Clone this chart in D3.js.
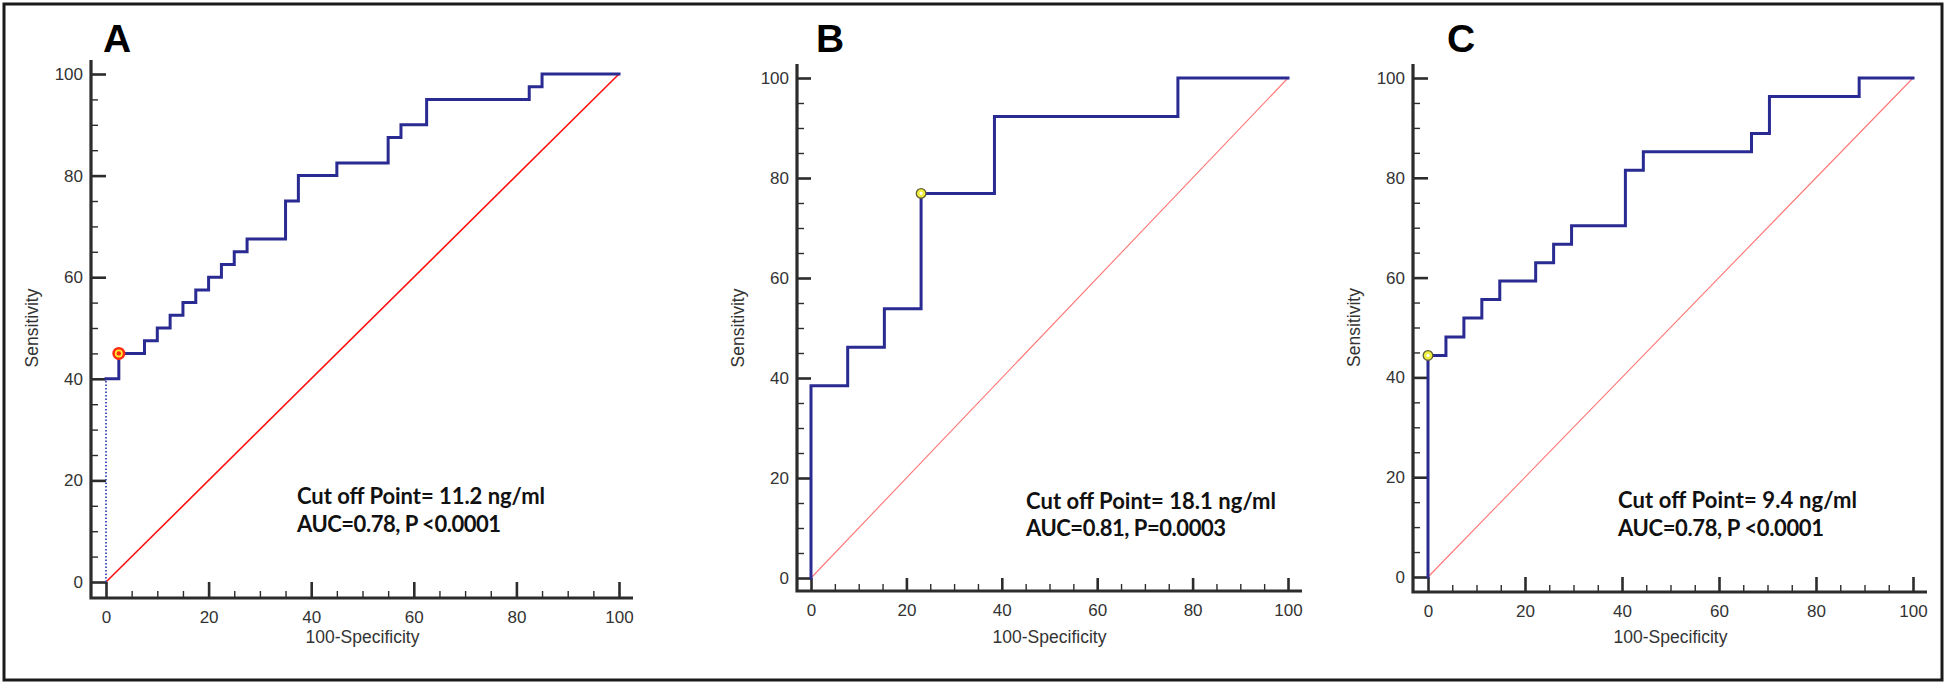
<!DOCTYPE html>
<html>
<head>
<meta charset="utf-8">
<script src="https://cdn.jsdelivr.net/npm/d3@7"></script>
<style>
  html, body { margin: 0; padding: 0; background: #ffffff; }
  svg { display: block; }
</style>
</head>
<body>
<svg id="chart" width="1946" height="684"></svg>
<script>
// ---------------- DATA ----------------
const panelLabels = ["A", "B", "C"];
const xTickValues = [0, 20, 40, 60, 80, 100];
const yTickValues = [0, 20, 40, 60, 80, 100];
const minorTickValues = [5, 10, 15, 25, 30, 35, 45, 50, 55, 65, 70, 75, 85, 90, 95];
const xAxisTitle = "100-Specificity";
const yAxisTitle = "Sensitivity";

// ROC vertices (100-Specificity, Sensitivity), drawn as step-after curves
const rocA_fpr = [0, 2.5, 7.5, 10, 12.5, 15, 17.5, 20, 22.5, 25, 27.5, 35, 37.5, 45, 55, 57.5, 62.5, 82.5, 85, 100];
const rocA_tpr = [40, 45, 47.5, 50, 52.5, 55, 57.5, 60, 62.5, 65, 67.5, 75, 80, 82.5, 87.5, 90, 95, 97.5, 100, 100];
const rocA_start_fpr = [0, 0];   // dotted first segment
const rocA_start_tpr = [0, 40];

const rocB_fpr = [0, 0, 7.69, 15.38, 23.08, 38.46, 76.92, 100];
const rocB_tpr = [0, 38.46, 46.15, 53.85, 76.92, 92.31, 100, 100];

const rocC_fpr = [0, 0, 3.7, 7.4, 11.1, 14.8, 22.2, 25.9, 29.6, 40.7, 44.4, 66.7, 70.4, 88.9, 100];
const rocC_tpr = [0, 44.4, 48.1, 51.9, 55.6, 59.3, 63.0, 66.7, 70.4, 81.5, 85.2, 88.9, 96.3, 100, 100];

// cut-off points
const cutoff_fpr = [2.5, 23.08, 0];
const cutoff_tpr = [45, 76.92, 44.4];

const annotationLine1 = ["Cut off Point= 11.2 ng/ml", "Cut off Point= 18.1 ng/ml", "Cut off Point= 9.4 ng/ml"];
const annotationLine2 = ["AUC=0.78, P <0.0001", "AUC=0.81, P=0.0003", "AUC=0.78, P <0.0001"];

// ---------------- LAYOUT ----------------
const layout = [
  { x0: 106, x1: 619, y0: 582, y1: 74, axisX: 91, axisY: 598, letterX: 103, annX: 297, annY1: 504, annY2: 532, annW1: 248, annW2: 204,
    diagColor: "#ff1010", diagWidth: 1.6, marker: "red" },
  { x0: 811, x1: 1288, y0: 578, y1: 78, axisX: 797, axisY: 591, letterX: 816, annX: 1026, annY1: 509, annY2: 536, annW1: 250, annW2: 200,
    diagColor: "#ff7474", diagWidth: 1.1, marker: "yellow" },
  { x0: 1428, x1: 1913, y0: 577, y1: 78, axisX: 1413, axisY: 592, letterX: 1447, annX: 1618, annY1: 508, annY2: 536, annW1: 239, annW2: 206,
    diagColor: "#ff7474", diagWidth: 1.1, marker: "yellow" }
];

const rocs = [
  d3.zip(rocA_fpr, rocA_tpr),
  d3.zip(rocB_fpr, rocB_tpr),
  d3.zip(rocC_fpr, rocC_tpr)
];

const svg = d3.select("#chart");

// outer frame
svg.append("rect")
  .attr("x", 4).attr("y", 4).attr("width", 1938).attr("height", 676)
  .attr("fill", "none").attr("stroke", "#1a1a1a").attr("stroke-width", 3);

const axisColor = "#2c2c2c";
const labelColor = "#333333";
const curveColor = "#2a2b92";

layout.forEach((L, i) => {
  const x = d3.scaleLinear().domain([0, 100]).range([L.x0, L.x1]);
  const y = d3.scaleLinear().domain([0, 100]).range([L.y0, L.y1]);
  const g = svg.append("g");

  // panel letter
  g.append("text")
    .attr("x", L.letterX).attr("y", 52)
    .attr("font-family", "'Liberation Sans', Arial, sans-serif")
    .attr("font-weight", "bold").attr("font-size", 39)
    .attr("fill", "#000").text(panelLabels[i]);

  // diagonal reference line
  g.append("line")
    .attr("x1", x(0)).attr("y1", y(0)).attr("x2", x(100)).attr("y2", y(100))
    .attr("stroke", L.diagColor).attr("stroke-width", L.diagWidth);

  // axis lines (offset frame)
  g.append("path")
    .attr("d", `M${L.axisX},${y(100) - 14} L${L.axisX},${L.axisY} L${x(100) + 14},${L.axisY}`)
    .attr("fill", "none").attr("stroke", axisColor).attr("stroke-width", 3.2)
    .attr("stroke-linejoin", "miter");

  // Y axis major ticks
  const yAxis = d3.axisLeft(y).tickValues(yTickValues).tickSize(-(L.x0 - L.axisX)).tickSizeOuter(0).tickPadding(8);
  const gy = g.append("g").attr("transform", `translate(${L.axisX},0)`).call(yAxis);
  gy.select(".domain").remove();
  gy.selectAll(".tick line").attr("stroke", axisColor).attr("stroke-width", 2.6);
  gy.selectAll(".tick text")
    .attr("font-family", "'Liberation Sans', Arial, sans-serif").attr("font-size", 17)
    .attr("fill", labelColor);

  // Y axis minor ticks
  const yMinor = d3.axisLeft(y).tickValues(minorTickValues).tickSize(-7).tickSizeOuter(0).tickFormat("");
  const gym = g.append("g").attr("transform", `translate(${L.axisX},0)`).call(yMinor);
  gym.select(".domain").remove();
  gym.selectAll(".tick line").attr("stroke", axisColor).attr("stroke-width", 1.4);

  // X axis major ticks
  const xAxis = d3.axisBottom(x).tickValues(xTickValues).tickSize(-(L.axisY - L.y0)).tickSizeOuter(0).tickPadding(7);
  const gx = g.append("g").attr("transform", `translate(0,${L.axisY})`).call(xAxis);
  gx.select(".domain").remove();
  gx.selectAll(".tick line").attr("stroke", axisColor).attr("stroke-width", 2.6);
  gx.selectAll(".tick text")
    .attr("font-family", "'Liberation Sans', Arial, sans-serif").attr("font-size", 17)
    .attr("fill", labelColor).attr("dy", "1.05em");

  // X axis minor ticks
  const xMinor = d3.axisBottom(x).tickValues(minorTickValues).tickSize(-7).tickSizeOuter(0).tickFormat("");
  const gxm = g.append("g").attr("transform", `translate(0,${L.axisY})`).call(xMinor);
  gxm.select(".domain").remove();
  gxm.selectAll(".tick line").attr("stroke", axisColor).attr("stroke-width", 1.4);

  // axis titles
  g.append("text")
    .attr("x", (L.x0 + L.x1) / 2).attr("y", 643)
    .attr("text-anchor", "middle")
    .attr("font-family", "'Liberation Sans', Arial, sans-serif").attr("font-size", 17.5)
    .attr("fill", labelColor).text(xAxisTitle);
  g.append("text")
    .attr("transform", `translate(${L.axisX - 53},${(L.y0 + L.y1) / 2}) rotate(-90)`)
    .attr("text-anchor", "middle")
    .attr("font-family", "'Liberation Sans', Arial, sans-serif").attr("font-size", 17.5)
    .attr("fill", labelColor).text(yAxisTitle);

  const line = d3.line().x(d => x(d[0])).y(d => y(d[1])).curve(d3.curveStepAfter);

  // dotted start for panel A
  if (i === 0) {
    g.append("path")
      .datum(d3.zip(rocA_start_fpr, rocA_start_tpr))
      .attr("d", d3.line().x(d => x(d[0])).y(d => y(d[1])))
      .attr("fill", "none").attr("stroke", "#3848b0").attr("stroke-width", 1.8)
      .attr("stroke-dasharray", "1.5,2");
  }

  // ROC curve
  g.append("path")
    .datum(rocs[i])
    .attr("d", line)
    .attr("fill", "none").attr("stroke", curveColor).attr("stroke-width", 3)
    .attr("stroke-linejoin", "miter").attr("stroke-linecap", "square");

  // cut-off marker
  const cx = x(cutoff_fpr[i]), cy = y(cutoff_tpr[i]);
  if (L.marker === "red") {
    g.append("circle").attr("cx", cx).attr("cy", cy).attr("r", 6.5).attr("fill", "#ff2a10");
    g.append("circle").attr("cx", cx).attr("cy", cy).attr("r", 4).attr("fill", "#ffe830");
    g.append("circle").attr("cx", cx).attr("cy", cy).attr("r", 2.2).attr("fill", "#ff2a10");
  } else {
    g.append("circle").attr("cx", cx).attr("cy", cy).attr("r", 4.8)
      .attr("fill", "#f2ee3c").attr("stroke", "#5f5f36").attr("stroke-width", 1.3);
    g.append("circle").attr("cx", cx).attr("cy", cy).attr("r", 1.6).attr("fill", "#ffffff");
  }

  // annotation
  g.append("text")
    .attr("x", L.annX).attr("y", L.annY1)
    .attr("font-family", "Lato, 'Open Sans', sans-serif").attr("font-weight", "bold").attr("font-size", 22)
    .attr("fill", "#111").attr("textLength", L.annW1).attr("lengthAdjust", "spacing")
    .text(annotationLine1[i]);
  g.append("text")
    .attr("x", L.annX).attr("y", L.annY2)
    .attr("font-family", "Lato, 'Open Sans', sans-serif").attr("font-weight", "bold").attr("font-size", 22)
    .attr("fill", "#111").attr("textLength", L.annW2).attr("lengthAdjust", "spacing")
    .text(annotationLine2[i]);
});
</script>
</body>
</html>
